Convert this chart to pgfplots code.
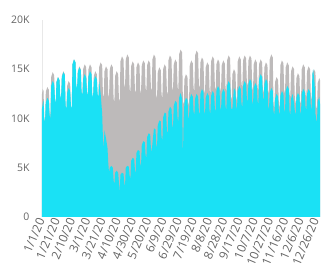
\documentclass[border=0pt]{standalone}
\usepackage{pgfplots}
\pgfplotsset{compat=1.18}
\usepackage{fontspec}
\setmainfont{Open Sans}
\definecolor{cy}{RGB}{26,225,245}
\definecolor{gr}{RGB}{189,186,186}
\definecolor{lbl}{RGB}{100,100,100}
\begin{document}
\begin{tikzpicture}
\begin{axis}[
  at={(0,0)}, anchor=south west,
  scale only axis, width=278bp, height=197bp,
  xmin=0, xmax=365, ymin=0, ymax=20,
  axis lines*=left,
  x axis line style={draw=none},
  y axis line style={draw=gray!18},
  ytick={0,5,10,15,20}, yticklabels={0,5K,10K,15K,20K},
  xtick={0,20,40,60,80,100,120,140,160,180,200,220,240,260,280,300,320,340,360},
  xticklabels={1/1/20,1/21/20,2/10/20,3/1/20,3/21/20,4/10/20,4/30/20,5/20/20,6/9/20,6/29/20,7/19/20,8/8/20,8/28/20,9/17/20,10/7/20,10/27/20,11/16/20,12/6/20,12/26/20},
  major tick length=0,
  /pgf/number format/assume math mode=true,
  ticklabel style={font=\fontsize{10.5}{12}\selectfont, text=lbl},
  xticklabel style={font=\fontsize{12}{13}\selectfont, rotate=67, anchor=east, inner sep=2pt},
  yticklabel style={xshift=-9bp},
]
\addplot[draw=none, fill=gr] coordinates {
(0,12.5)(1,13.0)(2,12.8)
(3,10.0)(4,9.6)(5,12.7)(7,13.2)(9,12.9)
(10,10.4)(11,10.0)(12,14.2)(14,14.7)(16,14.4)
(17,11.4)(18,11.0)(19,13.7)(21,14.2)(23,13.9)
(24,11.4)(25,11.0)(26,14.3)(28,14.8)(30,14.5)
(31,11.0)(32,10.6)(33,13.3)(35,13.8)(37,13.5)
(38,11.0)(39,10.6)(40,15.5)(42,16.0)(44,15.7)
(45,12.5)(46,12.1)(47,14.8)(49,15.3)(51,15.0)
(52,12.5)(53,12.1)(54,15.0)(56,15.5)(58,15.2)
(59,12.7)(60,12.3)(61,15.0)(63,15.5)(65,15.2)
(66,12.0)(67,11.6)(68,14.3)(70,14.8)(72,14.5)
(73,12.0)(74,11.6)(75,15.2)(77,15.7)(79,15.4)
(80,12.5)(81,12.1)(82,14.8)(84,15.3)(86,15.0)
(87,12.5)(88,12.1)(89,15.0)(91,15.5)(93,15.2)
(94,12.0)(95,11.6)(96,14.3)(98,14.8)(100,14.5)
(101,12.0)(102,11.6)(103,15.8)(105,16.3)(107,16.0)
(108,13.5)(109,13.1)(110,16.0)(112,16.5)(114,16.2)
(115,13.0)(116,12.6)(117,15.3)(119,15.8)(121,15.5)
(122,12.9)(123,12.5)(124,15.2)(126,15.7)(128,15.4)
(129,12.9)(130,12.5)(131,15.4)(133,15.9)(135,15.6)
(136,13.1)(137,12.7)(138,15.4)(140,15.9)(142,15.6)
(143,13.1)(144,12.7)(145,16.0)(147,16.5)(149,16.2)
(150,12.4)(151,12.0)(152,14.7)(154,15.2)(156,14.9)
(157,12.4)(158,12.0)(159,15.0)(161,15.5)(163,15.2)
(164,12.7)(165,12.3)(166,15.9)(168,16.4)(170,16.1)
(171,13.2)(172,12.8)(173,15.5)(175,16.0)(177,15.7)
(178,13.2)(179,12.8)(180,16.5)(182,17.0)(184,16.7)
(185,11.7)(186,11.3)(187,14.0)(189,14.5)(191,14.2)
(192,11.7)(193,11.3)(194,15.4)(196,15.9)(198,15.6)
(199,13.1)(200,12.7)(201,16.4)(203,16.9)(205,16.6)
(206,13.4)(207,13.0)(208,15.7)(210,16.2)(212,15.9)
(213,12.9)(214,12.5)(215,15.2)(217,15.7)(219,15.4)
(220,12.9)(221,12.5)(222,15.8)(224,16.3)(226,16.0)
(227,13.2)(228,12.8)(229,15.5)(231,16.0)(233,15.7)
(234,13.1)(235,12.7)(236,15.4)(238,15.9)(240,15.6)
(241,13.1)(242,12.7)(243,15.9)(245,16.4)(247,16.1)
(248,12.2)(249,11.8)(250,14.5)(252,15.0)(254,14.7)
(255,12.2)(256,11.8)(257,15.8)(259,16.3)(261,16.0)
(262,13.5)(263,13.1)(264,15.9)(266,16.4)(268,16.1)
(269,13.6)(270,13.2)(271,15.9)(273,16.4)(275,16.1)
(276,13.2)(277,12.8)(278,15.5)(280,16.0)(282,15.7)
(283,13.2)(284,12.8)(285,15.5)(287,16.0)(289,15.7)
(290,12.9)(291,12.5)(292,15.2)(294,15.7)(296,15.4)
(297,12.9)(298,12.5)(299,16.0)(301,16.5)(303,16.2)
(304,11.4)(305,11.0)(306,13.7)(308,14.2)(310,13.9)
(311,11.4)(312,11.0)(313,15.4)(315,15.9)(317,15.6)
(318,12.9)(319,12.5)(320,15.2)(322,15.7)(324,15.4)
(325,12.5)(326,12.1)(327,14.8)(329,15.3)(331,15.0)
(332,11.8)(333,11.4)(334,14.1)(336,14.6)(338,14.3)
(339,11.8)(340,11.4)(341,15.0)(343,15.5)(345,15.2)
(346,12.5)(347,12.1)(348,14.8)(350,15.3)(352,15.0)
(353,12.2)(354,11.8)(355,14.5)(357,15.0)(359,14.7)
(360,11.3)(361,10.9)(362,13.6)(364,14.1)(365,13.9)
} \closedcycle;
\addplot[draw=none, fill=cy] coordinates {
(0,11.0)(1,11.5)(2,11.8)
(3,10.0)(4,9.6)(5,11.6)(7,12.1)(9,11.8)
(10,10.3)(11,9.9)(12,13.3)(14,13.8)(16,13.5)
(17,12.0)(18,11.6)(19,13.7)(21,14.2)(23,13.9)
(24,12.4)(25,12.0)(26,14.2)(28,14.7)(30,14.4)
(31,11.3)(32,10.9)(33,12.6)(35,13.1)(37,12.8)
(38,11.3)(39,10.9)(40,15.5)(42,16.0)(44,15.7)
(45,13.4)(46,13.0)(47,14.7)(49,15.2)(51,14.9)
(52,12.7)(53,12.3)(54,14.0)(56,14.5)(58,14.2)
(59,12.7)(60,12.3)(61,14.3)(63,14.8)(65,14.5)
(66,12.5)(67,12.1)(68,13.8)(70,14.3)(72,14.0)
(73,12.5)(74,12.1)(75,13.8)(77,12.5)(79,10.5)
(80,8.0)(81,7.0)(82,8.8)(84,8.0)(86,7.0)
(87,5.5)(88,4.5)(89,5.0)(91,5.2)(93,5.0)
(94,3.7)(95,3.3)(96,4.5)(98,4.7)(100,4.5)
(101,3.5)(102,2.5)(103,4.3)(105,4.5)(107,4.4)
(108,3.5)(109,3.1)(110,5.0)(112,5.2)(114,5.1)
(115,4.2)(116,3.8)(117,5.7)(119,6.0)(121,5.9)
(122,4.8)(123,4.4)(124,6.5)(126,6.8)(128,6.7)
(129,5.5)(130,5.1)(131,7.3)(133,7.7)(135,7.6)
(136,6.3)(137,5.9)(138,8.1)(140,8.5)(142,8.4)
(143,7.0)(144,6.6)(145,7.5)(147,9.0)(149,8.9)
(150,7.4)(151,7.0)(152,9.3)(154,9.8)(156,9.7)
(157,8.1)(158,7.7)(159,10.1)(161,10.6)(163,10.5)
(164,8.8)(165,8.4)(166,10.7)(168,11.2)(170,11.0)
(171,9.4)(172,9.0)(173,11.3)(175,11.8)(177,11.6)
(178,10.0)(179,9.6)(180,12.1)(182,12.6)(184,12.0)
(185,5.8)(186,10.0)(187,11.6)(189,12.1)(191,11.9)
(192,10.3)(193,9.9)(194,12.0)(196,12.5)(198,12.2)
(199,10.7)(200,10.3)(201,12.0)(203,12.5)(205,12.2)
(206,10.7)(207,10.3)(208,12.5)(210,13.0)(212,12.7)
(213,10.8)(214,10.4)(215,12.1)(217,12.6)(219,12.3)
(220,10.8)(221,10.4)(222,12.3)(224,12.8)(226,12.5)
(227,11.0)(228,10.6)(229,12.8)(231,13.3)(233,13.0)
(234,11.2)(235,10.8)(236,12.5)(238,13.0)(240,12.7)
(241,11.2)(242,10.8)(243,13.3)(245,13.8)(247,13.5)
(248,11.3)(249,10.9)(250,11.0)(252,13.1)(254,12.8)
(255,11.3)(256,10.9)(257,12.8)(259,13.3)(261,13.0)
(262,11.5)(263,11.1)(264,13.3)(266,13.8)(268,13.5)
(269,12.0)(270,11.6)(271,13.5)(273,14.0)(275,13.7)
(276,11.8)(277,11.4)(278,13.1)(280,13.6)(282,13.3)
(283,11.8)(284,11.4)(285,14.0)(287,14.5)(289,14.2)
(290,12.2)(291,11.8)(292,13.5)(294,14.0)(296,13.7)
(297,11.3)(298,10.9)(299,12.6)(301,13.1)(303,12.8)
(304,10.7)(305,10.3)(306,12.0)(308,12.5)(310,12.2)
(311,10.7)(312,10.3)(313,12.3)(315,12.8)(317,12.5)
(318,11.0)(319,10.6)(320,12.8)(322,13.3)(324,13.0)
(325,10.7)(326,10.3)(327,12.0)(329,12.5)(331,11.5)
(332,10.7)(333,10.3)(334,12.1)(336,12.6)(338,12.3)
(339,10.8)(340,10.4)(341,12.5)(343,13.0)(345,12.7)
(346,11.2)(347,10.8)(348,12.5)(350,13.0)(352,12.7)
(353,11.2)(354,10.8)(355,14.5)(356,15.0)(358,13.5)(359,10.5)
(360,10.0)(361,9.6)(362,11.7)(364,12.2)(365,11.5)
} \closedcycle;
\end{axis}
\pgfresetboundingbox
\path[use as bounding box] (-42bp,-56bp) rectangle (279bp,217bp);
\end{tikzpicture}
\end{document}
